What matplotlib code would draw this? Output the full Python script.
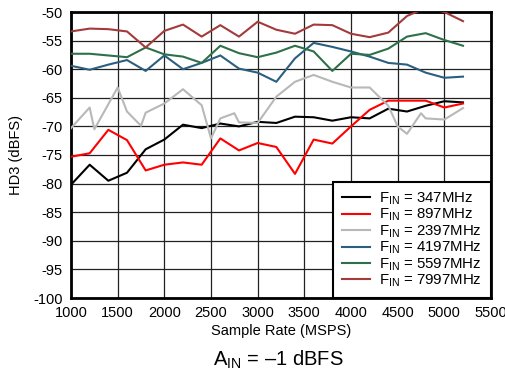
import matplotlib
matplotlib.use('Agg')
import matplotlib.pyplot as plt

plt.rcParams['font.family'] = ['Liberation Sans', 'DejaVu Sans']
plt.rcParams['mathtext.fontset'] = 'custom'
plt.rcParams['mathtext.rm'] = 'Liberation Sans'
plt.rcParams['mathtext.it'] = 'Liberation Sans:italic'
plt.rcParams['axes.unicode_minus'] = False

# sample rates (MSPS) on the regular 200 MSPS grid
fs = [1000, 1200, 1400, 1600, 1800, 2000, 2200, 2400, 2600, 2800, 3000,
      3200, 3400, 3600, 3800, 4000, 4200, 4400, 4600, 4800, 5000, 5200]

hd3_347 = [-80.2, -76.7, -79.5, -78.1, -74.0, -72.3, -69.7, -70.3, -69.5, -70.0, -69.2,
           -69.4, -68.3, -68.4, -69.0, -68.4, -68.6, -66.9, -67.4, -66.4, -65.6, -65.8]
hd3_897 = [-75.3, -74.7, -70.6, -72.4, -77.7, -76.7, -76.3, -76.7, -72.1, -74.2, -72.9,
           -73.6, -78.3, -72.3, -73.0, -70.0, -67.1, -65.5, -65.5, -65.5, -66.7, -66.0]
hd3_4197 = [-59.4, -60.1, -59.2, -58.4, -60.3, -57.6, -60.0, -58.9, -57.6, -59.9, -60.6,
            -62.2, -58.1, -55.4, -56.1, -56.9, -57.8, -58.9, -59.2, -60.6, -61.5, -61.3]
hd3_5597 = [-57.3, -57.3, -57.6, -57.9, -56.2, -57.4, -57.8, -58.9, -55.9, -57.2, -57.9,
            -57.1, -55.9, -56.9, -60.3, -57.3, -57.5, -56.4, -54.3, -53.7, -54.9, -55.9]
hd3_7997 = [-53.4, -52.9, -53.0, -53.4, -56.2, -53.3, -52.2, -54.3, -52.3, -54.3, -51.7,
            -53.1, -53.8, -52.2, -52.3, -53.8, -54.4, -53.6, -50.7, -49.3, -50.0, -51.6]

# 2397 MHz curve has extra points
fs_2397 = [1000, 1200, 1250, 1500, 1600, 1750, 1800, 2000, 2200, 2400, 2500, 2600,
           2750, 2800, 3000, 3200, 3400, 3600, 3800, 4000, 4200, 4400, 4500, 4600,
           4750, 4800, 5000, 5200]
hd3_2397 = [-70.3, -66.7, -70.5, -63.2, -67.4, -69.9, -67.6, -66.0, -63.5, -66.3, -72.1, -68.6,
            -67.7, -69.3, -69.4, -64.8, -62.2, -61.0, -62.2, -63.2, -63.2, -66.4, -70.0, -71.3,
            -67.7, -68.6, -68.8, -66.8]

series = [
    (fs, hd3_347, 'black', '347MHz'),
    (fs, hd3_897, '#ff0000', '897MHz'),
    (fs_2397, hd3_2397, '#b8b8b8', '2397MHz'),
    (fs, hd3_4197, '#2b5f80', '4197MHz'),
    (fs, hd3_5597, '#2e7049', '5597MHz'),
    (fs, hd3_7997, '#a23b3b', '7997MHz'),
]

fig = plt.figure(figsize=(5.06, 3.77), dpi=100)
ax = fig.add_axes([71 / 506, 1 - 298 / 377, 420 / 506, 286 / 377])

for x, y, c, name in series:
    ax.plot(x, y, color=c, linewidth=1.5, label=r'F$_{\rm IN}$ = ' + name, zorder=3)

ax.set_xlim(1000, 5500)
ax.set_ylim(-100, -50)
ax.set_xticks(range(1000, 5501, 500))
ax.set_yticks(range(-100, -49, 5))
ax.grid(True, color='#222222', linewidth=0.9)
ax.tick_params(length=0, labelsize=10.5, pad=6)
for s in ax.spines.values():
    s.set_linewidth(2)

ax.set_xlabel('Sample Rate (MSPS)', fontsize=10.5, labelpad=3)
ax.set_ylabel('HD3 (dBFS)', fontsize=10.5, labelpad=7)

leg = ax.legend(loc='lower right', borderaxespad=0, fontsize=10.8, fancybox=False,
                handlelength=1.9, handletextpad=0.6, labelspacing=0.0,
                borderpad=0.6, framealpha=1)
leg.get_frame().set_edgecolor('black')
leg.get_frame().set_linewidth(1.5)

fig.text(278 / 506, 1 - 360 / 377, r'A$_{\rm IN}$ = –1 dBFS', ha='center', va='center', fontsize=14.5)

fig.savefig('out.png', dpi=100)
